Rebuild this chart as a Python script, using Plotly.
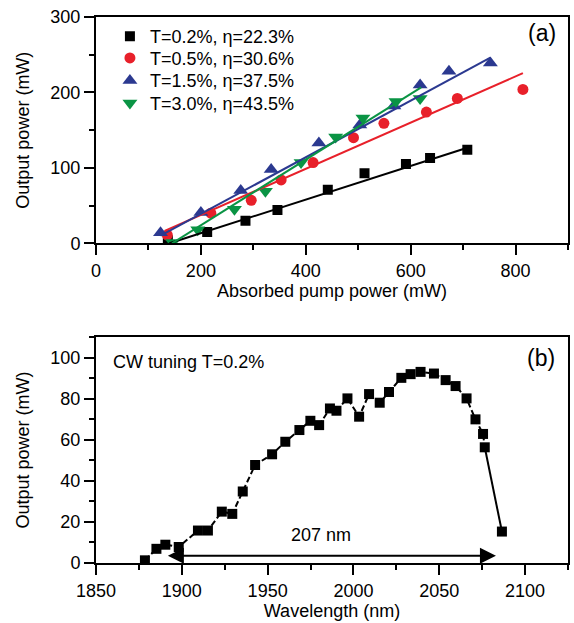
import numpy as np
import plotly.graph_objects as go

# ---------------- Panel (a) data ----------------
black_x = [137, 212, 285, 346, 442, 512, 591, 637, 708]
black_y = [4, 15, 30, 44, 71, 93, 105, 113, 124]
red_x = [136, 219, 296, 353, 414, 491, 549, 630, 689, 814]
red_y = [11, 40, 57, 84, 107, 140, 159, 174, 192, 204]
blue_x = [123, 200, 276, 334, 425, 503, 568, 618, 673, 752]
blue_y = [14, 41, 70, 98, 133, 157, 182, 210, 228, 239]
green_x = [146, 194, 264, 323, 391, 457, 509, 572, 618]
green_y = [1, 18, 45, 69, 107, 141, 166, 188, 192]

series_names = ["T=0.2%, η=22.3%", "T=0.5%, η=30.6%", "T=1.5%, η=37.5%", "T=3.0%, η=43.5%"]
series_colors = ["#000000", "#E8202A", "#2B3990", "#0A9444"]
series_symbols = ["square", "circle", "triangle-up", "triangle-down"]
series_sizes = [10, 11, 13, 13]
legend_rows_y = [0.964, 0.9244, 0.8833, 0.842]

# linear fits: slope (efficiency), threshold, drawn x-range
fit_slope = [0.223, 0.306, 0.375, 0.435]
fit_threshold = [140, 77, 96, 145]
fit_xrange = [[140, 708], [131, 814], [123, 752], [145, 620]]

# ---------------- Panel (b) data ----------------
wl = [1878.5, 1885.2, 1890.4, 1898.2, 1909.4, 1915.2, 1923.3, 1929.4, 1935.5, 1942.7,
      1952.6, 1960.3, 1968.5, 1974.9, 1980.0, 1986.3, 1990.1, 1996.5, 2003.3, 2009.1,
      2015.3, 2020.7, 2027.9, 2033.3, 2039.1, 2046.9, 2053.7, 2059.5, 2065.9, 2071.1,
      2075.5, 2076.5, 2086.5]
pw = [1.3, 6.9, 8.9, 7.8, 15.8, 15.8, 25.0, 23.9, 34.8, 47.7,
      52.9, 59.0, 64.7, 69.2, 67.1, 75.2, 74.1, 80.1, 71.2, 82.2,
      78.0, 83.2, 90.1, 91.9, 93.0, 92.2, 89.0, 86.1, 80.1, 69.9,
      62.8, 56.3, 15.3]
arrow_start, arrow_end, arrow_level = 1891, 2083, 3.5
span_label = "207 nm"

FONT = "Liberation Sans, Arial, sans-serif"
FS = 18

fig = go.Figure()

legend_keys = ["legend", "legend2", "legend3", "legend4"]
for xs, ys, name, col, sym, sz, lg in zip([black_x, red_x, blue_x, green_x],
                                         [black_y, red_y, blue_y, green_y],
                                         series_names, series_colors, series_symbols,
                                         series_sizes, legend_keys):
    fig.add_trace(go.Scatter(x=xs, y=ys, mode="markers", name=name, legend=lg,
                             marker=dict(symbol=sym, size=sz, color=col, line=dict(width=0)),
                             xaxis="x", yaxis="y"))

for s, t0, xr, col in zip(fit_slope, fit_threshold, fit_xrange, series_colors):
    fx = np.array(xr, dtype=float)
    fy = s * (fx - t0)
    fig.add_trace(go.Scatter(x=fx, y=fy, mode="lines", showlegend=False,
                             line=dict(color=col, width=2), xaxis="x", yaxis="y"))

# panel b: dashed connection, last segment solid
fig.add_trace(go.Scatter(x=wl[:-1], y=pw[:-1], mode="lines", showlegend=False,
                         line=dict(color="black", width=2, dash="6px,3px"),
                         xaxis="x2", yaxis="y2"))
fig.add_trace(go.Scatter(x=wl[-2:], y=pw[-2:], mode="lines", showlegend=False,
                         line=dict(color="black", width=2),
                         xaxis="x2", yaxis="y2"))
fig.add_trace(go.Scatter(x=wl, y=pw, mode="markers", showlegend=False,
                         marker=dict(symbol="square", size=10, color="black"),
                         xaxis="x2", yaxis="y2"))

axis_common = dict(showline=True, linecolor="black", linewidth=2, mirror=True,
                   ticks="outside", ticklen=10, tickwidth=2, tickcolor="black",
                   showgrid=False, zeroline=False,
                   tickfont=dict(family=FONT, size=FS, color="black"))
minor_common = dict(ticklen=5, tickwidth=2, ticks="outside", tickcolor="black")
mirror_common = dict(showline=False, ticks="outside", ticklen=3, tickwidth=1.5,
                     tickcolor="black", showticklabels=False, showgrid=False,
                     zeroline=False)

layout_kwargs = dict(
    width=574, height=623,
    margin=dict(l=96, r=4, t=17, b=60),
    paper_bgcolor="white", plot_bgcolor="white",
    font=dict(family=FONT, size=FS, color="black"),
    xaxis=dict(domain=[0, 1], anchor="y", range=[0, 900], dtick=200,
               minor=dict(dtick=100, **minor_common),
               title=dict(text="Absorbed pump power (mW)", font=dict(size=FS), standoff=4),
               **axis_common),
    yaxis=dict(domain=[0.5855, 1], anchor="x", range=[0, 300], dtick=100,
               minor=dict(dtick=50, **minor_common),
               title=dict(text="Output power (mW)", font=dict(size=FS), standoff=16),
               **axis_common),
    xaxis2=dict(domain=[0, 1], anchor="y2", range=[1850, 2125], dtick=50,
                minor=dict(dtick=25, **minor_common),
                title=dict(text="Wavelength (nm)", font=dict(size=FS), standoff=4),
                **axis_common),
    yaxis2=dict(domain=[0, 0.414], anchor="x2", range=[0, 110], dtick=20,
                minor=dict(dtick=10, **minor_common),
                title=dict(text="Output power (mW)", font=dict(size=FS), standoff=16),
                **axis_common),
    # small ticks on the top / right frame
    xaxis3=dict(overlaying="x", side="top", anchor="y", range=[0, 900], dtick=100,
                **mirror_common),
    yaxis3=dict(overlaying="y", side="right", anchor="x", range=[0, 300], dtick=50,
                **mirror_common),
    xaxis4=dict(overlaying="x2", side="top", anchor="y2", range=[1850, 2125], dtick=25,
                **mirror_common),
    yaxis4=dict(overlaying="y2", side="right", anchor="x2", range=[0, 110], dtick=10,
                **mirror_common),
    showlegend=True,
)
for lg, ly in zip(legend_keys, legend_rows_y):
    layout_kwargs[lg] = dict(x=0.0295, y=ly, xanchor="left", yanchor="middle",
                             bgcolor="rgba(0,0,0,0)", borderwidth=0,
                             font=dict(family=FONT, size=FS), itemsizing="trace")
fig.update_layout(**layout_kwargs)

fig.add_annotation(x=arrow_end, y=arrow_level, ax=arrow_start, ay=arrow_level,
                   xref="x2", yref="y2", axref="x2", ayref="y2", text="",
                   showarrow=True, arrowhead=2, arrowside="end+start",
                   arrowsize=1.6, arrowwidth=2, arrowcolor="black")
fig.add_annotation(x=(arrow_start + arrow_end) / 2 - 6, y=13.5, xref="x2", yref="y2",
                   text=span_label, showarrow=False, font=dict(size=FS))
fig.add_annotation(x=0.031, y=0.369, xref="paper", yref="paper", xanchor="left",
                   yanchor="middle", text="CW tuning T=0.2%", showarrow=False,
                   font=dict(size=FS))
fig.add_annotation(x=0.979, y=0.971, xref="paper", yref="paper", xanchor="right",
                   yanchor="middle", text="(a)", showarrow=False, font=dict(size=23))
fig.add_annotation(x=0.977, y=0.376, xref="paper", yref="paper", xanchor="right",
                   yanchor="middle", text="(b)", showarrow=False, font=dict(size=23))

fig.write_html("out.html", config={"displayModeBar": False},
               post_script="document.body.style.margin='0';document.body.style.overflow='hidden';")
